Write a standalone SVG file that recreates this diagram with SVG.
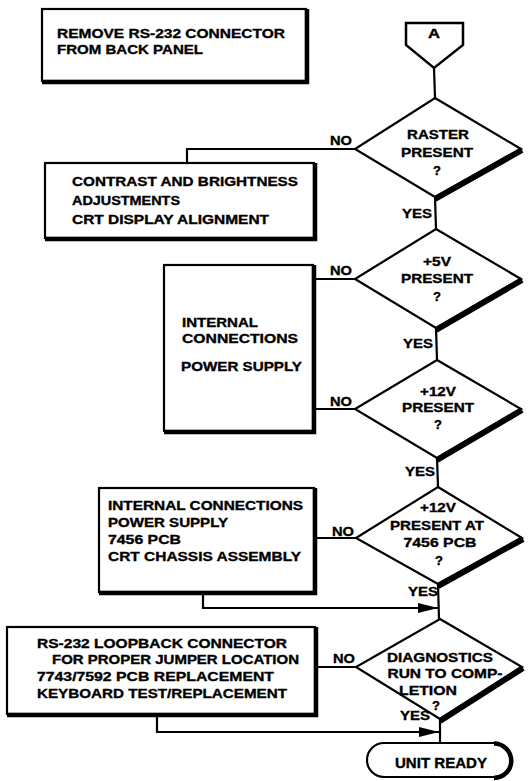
<svg xmlns="http://www.w3.org/2000/svg" width="531" height="781" viewBox="0 0 531 781">
<style>
text{font-family:"Liberation Sans",Arial,Helvetica,sans-serif;font-weight:bold;font-size:13px;fill:#000;stroke:#000;stroke-width:0.35}
.m{text-anchor:middle}
.box{fill:#fff;stroke:#000;stroke-width:2.2}
.sh{fill:none;stroke:#000;stroke-width:4.5}
.dia{fill:#fff;stroke:#000;stroke-width:2.2;stroke-linejoin:miter}
.dsh{fill:none;stroke:#000;stroke-width:6;stroke-linecap:butt}
.ln{fill:none;stroke:#000;stroke-width:2.2}
.big{font-size:14px}
</style>
<defs>
<marker id="arr" markerWidth="20" markerHeight="10" refX="20" refY="5" orient="auto" markerUnits="userSpaceOnUse">
<path d="M0,0 L20,5 L0,10 Z" fill="#000"/>
</marker>
</defs>
<g id="connectors">
<line class="ln" x1="434" y1="68" x2="435" y2="98"/>
<polyline class="ln" points="355,149 187,149 187,163"/>
<line class="ln" x1="435" y1="197" x2="436" y2="229"/>
<line class="ln" x1="355" y1="279" x2="314" y2="279"/>
<line class="ln" x1="436" y1="328" x2="437" y2="360"/>
<line class="ln" x1="355" y1="409" x2="314" y2="409"/>
<line class="ln" x1="437" y1="458" x2="438" y2="487"/>
<line class="ln" x1="356" y1="538" x2="316" y2="538"/>
<line class="ln" x1="438" y1="584" x2="439" y2="619"/>
<polyline class="ln" points="203,593 203,608 438,608" marker-end="url(#arr)"/>
<line class="ln" x1="356" y1="667" x2="316" y2="667"/>
<line class="ln" x1="440" y1="719" x2="440" y2="743"/>
<polyline class="ln" points="157,716 157,732 439,732" marker-end="url(#arr)"/>
</g>
<g id="box1">
<rect class="box" x="42" y="9" width="264" height="72"/>
<path class="sh" d="M307,9 V82 H42"/>
<text x="57" y="38" textLength="228" lengthAdjust="spacingAndGlyphs">REMOVE RS-232 CONNECTOR</text>
<text x="57" y="54" textLength="146" lengthAdjust="spacingAndGlyphs">FROM BACK PANEL</text>
</g>
<g id="offpageA">
<path d="M406,23 H463 V45 L434,68 L406,45 Z" fill="#fff" stroke="#000" stroke-width="2.5" stroke-linejoin="miter"/>
<text class="m" x="434" y="38" textLength="12" lengthAdjust="spacingAndGlyphs">A</text>
</g>
<g id="d1">
<polygon class="dia" points="435,98 521,149 435,197 355,149"/>
<line class="dsh" x1="435" y1="199" x2="522" y2="150"/>
<text class="m" x="438" y="139" textLength="62" lengthAdjust="spacingAndGlyphs">RASTER</text>
<text class="m" x="437" y="157" textLength="72" lengthAdjust="spacingAndGlyphs">PRESENT</text>
<text class="m" x="437" y="175">?</text>
<text x="330" y="145" textLength="22" lengthAdjust="spacingAndGlyphs">NO</text>
<text x="402" y="218" textLength="30" lengthAdjust="spacingAndGlyphs">YES</text>
</g>
<g id="box2">
<rect class="box" x="45" y="163" width="269" height="75"/>
<path class="sh" d="M315,163 V239 H45"/>
<text x="72" y="186" textLength="226" lengthAdjust="spacingAndGlyphs">CONTRAST AND BRIGHTNESS</text>
<text x="72" y="205" textLength="108" lengthAdjust="spacingAndGlyphs">ADJUSTMENTS</text>
<text x="72" y="224" textLength="197" lengthAdjust="spacingAndGlyphs">CRT DISPLAY ALIGNMENT</text>
</g>
<g id="d2">
<polygon class="dia" points="436,229 521,279 436,328 355,279"/>
<line class="dsh" x1="436" y1="330" x2="522" y2="280"/>
<text class="m" x="437" y="266" textLength="28" lengthAdjust="spacingAndGlyphs">+5V</text>
<text class="m" x="437" y="283" textLength="72" lengthAdjust="spacingAndGlyphs">PRESENT</text>
<text class="m" x="437" y="301">?</text>
<text x="330" y="275" textLength="22" lengthAdjust="spacingAndGlyphs">NO</text>
<text x="403" y="348" textLength="30" lengthAdjust="spacingAndGlyphs">YES</text>
</g>
<g id="box3">
<rect class="box" x="164" y="265" width="149" height="166"/>
<path class="sh" d="M314,265 V432 H164"/>
<text x="182" y="327" textLength="76" lengthAdjust="spacingAndGlyphs">INTERNAL</text>
<text x="182" y="343" textLength="116" lengthAdjust="spacingAndGlyphs">CONNECTIONS</text>
<text x="181" y="371" textLength="121" lengthAdjust="spacingAndGlyphs">POWER SUPPLY</text>
</g>
<g id="d3">
<polygon class="dia" points="437,360 521,409 437,458 355,409"/>
<line class="dsh" x1="437" y1="460" x2="522" y2="410"/>
<text class="m" x="438" y="396" textLength="36" lengthAdjust="spacingAndGlyphs">+12V</text>
<text class="m" x="438" y="412" textLength="72" lengthAdjust="spacingAndGlyphs">PRESENT</text>
<text class="m" x="438" y="429">?</text>
<text x="330" y="406" textLength="22" lengthAdjust="spacingAndGlyphs">NO</text>
<text x="405" y="476" textLength="30" lengthAdjust="spacingAndGlyphs">YES</text>
</g>
<g id="box4">
<rect class="box" x="99" y="488" width="215" height="104"/>
<path class="sh" d="M315,488 V593 H99"/>
<text x="108" y="510" textLength="195" lengthAdjust="spacingAndGlyphs">INTERNAL CONNECTIONS</text>
<text x="108" y="527" textLength="120" lengthAdjust="spacingAndGlyphs">POWER SUPPLY</text>
<text x="108" y="544" textLength="73" lengthAdjust="spacingAndGlyphs">7456 PCB</text>
<text x="108" y="561" textLength="193" lengthAdjust="spacingAndGlyphs">CRT CHASSIS ASSEMBLY</text>
</g>
<g id="d4">
<polygon class="dia" points="438,487 522,538 438,584 356,538"/>
<line class="dsh" x1="438" y1="586" x2="523" y2="539"/>
<text class="m" x="438" y="512" textLength="36" lengthAdjust="spacingAndGlyphs">+12V</text>
<text class="m" x="437" y="530" textLength="94" lengthAdjust="spacingAndGlyphs">PRESENT AT</text>
<text class="m" x="440" y="547" textLength="73" lengthAdjust="spacingAndGlyphs">7456 PCB</text>
<text class="m" x="439" y="565">?</text>
<text x="332" y="536" textLength="22" lengthAdjust="spacingAndGlyphs">NO</text>
<text x="408" y="596" textLength="30" lengthAdjust="spacingAndGlyphs">YES</text>
</g>
<g id="box5">
<rect class="box" x="7" y="627" width="308" height="87"/>
<path class="sh" d="M316,627 V715 H7"/>
<text x="37" y="648" textLength="250" lengthAdjust="spacingAndGlyphs">RS-232 LOOPBACK CONNECTOR</text>
<text x="52" y="664" textLength="247" lengthAdjust="spacingAndGlyphs">FOR PROPER JUMPER LOCATION</text>
<text x="37" y="681" textLength="237" lengthAdjust="spacingAndGlyphs">7743/7592 PCB REPLACEMENT</text>
<text x="37" y="698" textLength="250" lengthAdjust="spacingAndGlyphs">KEYBOARD TEST/REPLACEMENT</text>
</g>
<g id="d5">
<polygon class="dia" points="440,619 522,667 440,719 356,667"/>
<line class="dsh" x1="440" y1="721" x2="523" y2="668"/>
<text class="m" x="440" y="662" textLength="106" lengthAdjust="spacingAndGlyphs">DIAGNOSTICS</text>
<text class="m" x="445" y="678" textLength="115" lengthAdjust="spacingAndGlyphs">RUN TO COMP-</text>
<text class="m" x="428" y="695" textLength="58" lengthAdjust="spacingAndGlyphs">LETION</text>
<text class="m" x="436" y="710">?</text>
<text x="333" y="663" textLength="22" lengthAdjust="spacingAndGlyphs">NO</text>
<text x="400" y="720" textLength="30" lengthAdjust="spacingAndGlyphs">YES</text>
</g>
<g id="terminal">
<rect x="367" y="743" width="144" height="34" rx="17" ry="17" fill="#fff" stroke="#000" stroke-width="2.2"/>
<path d="M494,743.5 A17,17 0 0 1 494,778" fill="none" stroke="#000" stroke-width="4.5"/>
<text class="m big" x="441" y="768" textLength="92" lengthAdjust="spacingAndGlyphs">UNIT READY</text>
</g>
</svg>
